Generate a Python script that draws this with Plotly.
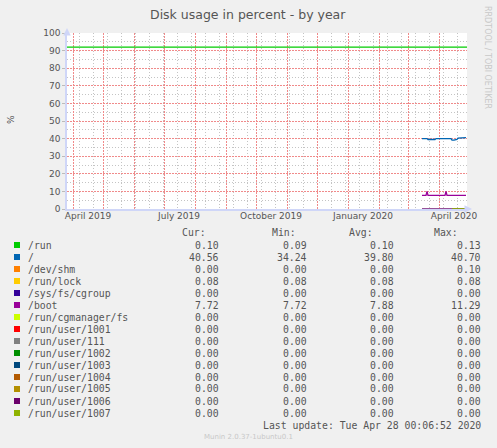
import pandas as pd
import plotly.graph_objects as go

# ---------------------------------------------------------------------------
# Data
# ---------------------------------------------------------------------------
TITLE = "Disk usage in percent - by year"
X_START, X_END = "2019-03-26", "2020-04-29"
WARNING = 92

DAYS = pd.date_range("2020-03-15", "2020-04-28", freq="D")

# "/" (root) daily means, 2020-03-15 .. 2020-04-28
ROOT = [40.0, 40.0, 40.0, 40.0, 40.0, 40.0,
        39.5, 39.5, 39.5, 39.5, 39.5, 39.5, 39.5, 39.5,
        40.0, 40.0, 40.0, 40.0, 40.0, 40.0, 40.0, 40.0,
        40.0, 40.0, 40.0, 40.0, 40.0, 40.0, 40.0, 40.0,
        39.1, 39.0, 39.1, 39.3, 39.5, 39.5,
        40.3, 40.3, 40.3, 40.3, 40.3,
        40.6, 40.6, 40.6, 40.6]
# "/boot" daily means
BOOT = [7.72, 7.72, 7.72, 7.72, 7.72, 10.0, 7.72, 7.72, 7.72, 7.72,
        7.72, 7.72, 7.72, 7.72, 7.72, 7.72, 7.72, 7.72, 7.72, 7.72,
        7.72, 7.72, 7.72, 7.72, 10.0, 7.72, 7.72, 7.72, 7.72, 7.72,
        7.72, 7.72, 7.72, 7.72, 7.72, 7.72, 7.72, 7.72, 7.72, 7.72,
        7.72, 7.72, 7.72, 7.72, 7.72]
RUN = [0.10] * len(DAYS)
RUN_LOCK = [0.08] * len(DAYS)
ZERO = [0.0] * len(DAYS)
USER_1006_DAYS = 31   # /run/user/1006 visible at the bottom until mid April
USER_1007_FROM = 30   # /run/user/1007 from mid April on

FIELDS = ["/run", "/", "/dev/shm", "/run/lock", "/sys/fs/cgroup", "/boot",
          "/run/cgmanager/fs", "/run/user/1001", "/run/user/111",
          "/run/user/1002", "/run/user/1003", "/run/user/1004",
          "/run/user/1005", "/run/user/1006", "/run/user/1007"]
COLORS = ["#00CC00", "#0066B3", "#FF8000", "#FFCC00", "#330099", "#990099",
          "#CCFF00", "#FF0000", "#808080", "#008F00", "#00487D", "#B35A00",
          "#B38F00", "#6B006B", "#8FB300"]
CUR = [0.10, 40.56, 0.00, 0.08, 0.00, 7.72] + [0.00] * 9
MIN = [0.09, 34.24, 0.00, 0.08, 0.00, 7.72] + [0.00] * 9
AVG = [0.10, 39.80, 0.00, 0.08, 0.00, 7.88] + [0.00] * 9
MAX = [0.13, 40.70, 0.10, 0.08, 0.00, 11.29] + [0.00] * 9

MONTH_GRID = pd.date_range("2019-04-01", "2020-04-01", freq="MS")
WEEK_GRID = pd.date_range("2019-04-07", "2020-04-28", freq="14D")
LABEL_POS = ["2019-04-16", "2019-07-16", "2019-10-16", "2020-01-16", "2020-04-16"]
LABEL_TXT = ["April 2019", "July 2019", "October 2019", "January 2020", "April 2020"]

LAST_UPDATE = "Last update: Tue Apr 28 00:06:52 2020"
VERSION = "Munin 2.0.37-1ubuntu0.1"

# ---------------------------------------------------------------------------
# Geometry helpers (pixel -> paper)
# ---------------------------------------------------------------------------
W, H = 497, 448
L, R, T, B = 67, 30, 33, 239
PW, PH = W - L - R, H - T - B


def px(x):
    return (x - L) / PW


def py(y):
    return (H - B - y) / PH


MONO = "DejaVu Sans Mono"
SANS = "DejaVu Sans"
TXT = "#555555"
AXIS = "#CFD6F8"
MGRID = "#F08A8A"
GRID = "#C4C4C4"

# ---------------------------------------------------------------------------
# Figure
# ---------------------------------------------------------------------------
fig = go.Figure()

zero_idx = {2: ZERO, 3: RUN_LOCK, 4: ZERO, 0: RUN}
for i in [0, 2, 3, 4]:
    fig.add_trace(go.Scatter(x=DAYS, y=zero_idx[i], mode="lines",
                             line=dict(color=COLORS[i], width=1.2)))
fig.add_trace(go.Scatter(x=DAYS[:USER_1006_DAYS], y=ZERO[:USER_1006_DAYS],
                         mode="lines", line=dict(color="#9B4DB0", width=1.5)))
fig.add_trace(go.Scatter(x=DAYS[USER_1007_FROM:], y=ZERO[USER_1007_FROM:],
                         mode="lines", line=dict(color=COLORS[14], width=1.5)))
fig.add_trace(go.Scatter(x=DAYS, y=ROOT, mode="lines",
                         line=dict(color=COLORS[1], width=1.3)))
fig.add_trace(go.Scatter(x=DAYS, y=BOOT, mode="lines",
                         line=dict(color=COLORS[5], width=1.3)))
# warning rule, drawn on the label axis
fig.add_trace(go.Scatter(x=[X_START, X_END], y=[WARNING, WARNING], mode="lines",
                         line=dict(color="#00CC00", width=1.3), xaxis="x2"))

fig.update_layout(
    width=W, height=H,
    margin=dict(l=L, r=R, t=T, b=B),
    paper_bgcolor="#F0F0F0", plot_bgcolor="#FFFFFF",
    showlegend=False,
    xaxis=dict(
        type="date", range=[X_START, X_END],
        tickmode="array", tickvals=list(MONTH_GRID), ticktext=[""] * len(MONTH_GRID),
        showgrid=True, gridcolor=MGRID, griddash="2px,1px", gridwidth=1,
        showline=True, linecolor=AXIS, linewidth=1.5, ticks="", zeroline=False,
        minor=dict(tickmode="array", tickvals=list(WEEK_GRID), showgrid=True,
                   gridcolor=GRID, griddash="1px,2px", gridwidth=1),
        layer="below traces",
    ),
    xaxis2=dict(
        type="date", range=[X_START, X_END], overlaying="x", anchor="y",
        side="bottom", tickmode="array", tickvals=LABEL_POS, ticktext=LABEL_TXT,
        showgrid=False, showline=False, ticks="", zeroline=False,
        tickfont=dict(family=SANS, size=9, color=TXT),
    ),
    yaxis=dict(
        range=[0, 100], tickmode="linear", tick0=0, dtick=10,
        showgrid=True, gridcolor=MGRID, griddash="2px,1px", gridwidth=1,
        showline=True, linecolor=AXIS, linewidth=1.5, zeroline=False,
        ticks="outside", ticklen=3, tickcolor="#BBBBBB",
        tickfont=dict(family=SANS, size=9, color=TXT),
        minor=dict(dtick=5, showgrid=True, gridcolor=GRID, griddash="1px,2px",
                   gridwidth=1),
    ),
)

ann = []
shapes = []

ann.append(dict(x=px(248), y=py(14), text=TITLE, xanchor="center",
                font=dict(family=SANS, size=12.5, color=TXT)))
ann.append(dict(x=px(11), y=py(119), text="%", textangle=-90, xanchor="center",
                font=dict(family=SANS, size=9, color=TXT)))
ann.append(dict(x=px(488), y=py(57), text="RRDTOOL / TOBI OETIKER", textangle=90,
                xanchor="center",
                font=dict(family=SANS, size=8, color="#C8C8C8")))

# legend table
head_y = 232
for label, xr in zip(["Cur:", "Min:", "Avg:", "Max:"], [208, 298, 375, 460]):
    ann.append(dict(x=px(xr), y=py(head_y), text=label, xanchor="right",
                    font=dict(family=MONO, size=9.8, color=TXT)))

for i, name in enumerate(FIELDS):
    yc = 245 + 12 * i
    shapes.append(dict(type="rect", xref="paper", yref="paper",
                       x0=px(14), x1=px(20), y0=py(yc + 3), y1=py(yc - 3),
                       fillcolor=COLORS[i], line=dict(width=0)))
    ann.append(dict(x=px(26), y=py(yc), text=name, xanchor="left",
                    font=dict(family=MONO, size=9.8, color=TXT)))
    for vals, xr in zip([CUR, MIN, AVG, MAX], [221, 309, 396, 483]):
        ann.append(dict(x=px(xr), y=py(yc), text=f"{vals[i]:.2f}", xanchor="right",
                        font=dict(family=MONO, size=9.8, color=TXT)))

ann.append(dict(x=px(483), y=py(425), text=LAST_UPDATE, xanchor="right",
                font=dict(family=MONO, size=9.8, color=TXT)))
ann.append(dict(x=px(248), y=py(437), text=VERSION, xanchor="center",
                font=dict(family=SANS, size=7, color="#C8C8C8")))

for a in ann:
    a.setdefault("xref", "paper")
    a.setdefault("yref", "paper")
    a.setdefault("yanchor", "middle")
    a.setdefault("showarrow", False)

# axis arrows
ann.append(dict(x=px(472), y=py(209), xref="paper", yref="paper", ax=-6, ay=0,
                text="", showarrow=True, arrowhead=2, arrowsize=1,
                arrowwidth=1.5, arrowcolor=AXIS))
ann.append(dict(x=px(67), y=py(28), xref="paper", yref="paper", ax=0, ay=6,
                text="", showarrow=True, arrowhead=2, arrowsize=1,
                arrowwidth=1.5, arrowcolor=AXIS))

fig.update_layout(annotations=ann, shapes=shapes)

fig.write_html("out.html", config={"displayModeBar": False},
               post_script="document.body.style.margin='0';")
